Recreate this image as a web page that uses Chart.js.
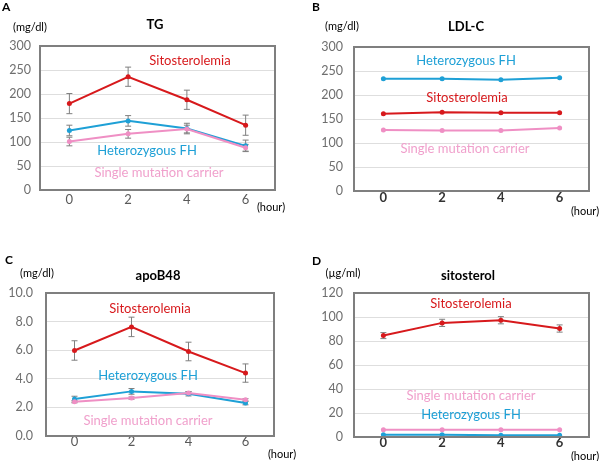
<!DOCTYPE html>
<html>
<head>
<meta charset="utf-8">
<script src="https://cdn.jsdelivr.net/npm/chart.js@4.4.1/dist/chart.umd.min.js"></script>
<style>
  html, body { margin: 0; padding: 0; background: #fff; }
  #wrap { position: relative; width: 600px; height: 461px; }
  .panel { position: absolute; }
</style>
</head>
<body>
<div id="wrap">
  <div class="panel" style="left:0;top:0"><canvas id="cA" width="300" height="230"></canvas></div>
  <div class="panel" style="left:300px;top:0"><canvas id="cB" width="300" height="230"></canvas></div>
  <div class="panel" style="left:0;top:230px"><canvas id="cC" width="300" height="231"></canvas></div>
  <div class="panel" style="left:300px;top:230px"><canvas id="cD" width="300" height="231"></canvas></div>
</div>
<script>
// ── Data ────────────────────────────────────────────────────────────────
const hours = ['0', '2', '4', '6'];

// A: TG (mg/dl)
const tgSito = [180, 236, 188, 135];
const tgSitoErr = [21, 20, 20, 21];
const tgHetFH = [124, 144, 128, 92];
const tgHetFHErr = [11, 11, 11, 12];
const tgSingle = [101, 117, 127, 88];
const tgSingleErr = [9, 9, 8, 7];

// B: LDL-C (mg/dl)
const ldlSito = [161, 164, 163, 163];
const ldlHetFH = [234, 234, 232, 236];
const ldlSingle = [127, 126, 126, 131];

// C: apoB48 (mg/dl)
const apoSito = [5.98, 7.63, 5.91, 4.40];
const apoSitoErr = [0.68, 0.68, 0.65, 0.64];
const apoHetFH = [2.58, 3.12, 2.95, 2.30];
const apoHetFHErr = [0.2, 0.2, 0.15, 0.12];
const apoSingle = [2.40, 2.65, 3.00, 2.53];
const apoSingleErr = [0.08, 0.08, 0.1, 0.08];

// D: sitosterol (µg/ml)
const sitoSito = [84.5, 95.1, 97.3, 90.4];
const sitoSitoErr = [2.5, 3, 3, 3];
const sitoHetFH = [1.8, 1.9, 1.5, 1.5];
const sitoSingle = [6.1, 6.1, 6.1, 6.1];

const RED = '#d7191c';
const BLUE = '#1ea0d6';
const PINK = '#ef8fc4';
const PINK_TXT = '#f0a0cc';
const FRAME = '#7f7f7f';
const FONT = "Lato, 'Liberation Sans', sans-serif";

Chart.defaults.font.family = FONT;

// ── Plugins ─────────────────────────────────────────────────────────────
// error bars, drawn under the lines
const errorBars = {
  id: 'errorBars',
  beforeDatasetsDraw(chart) {
    const { ctx, scales: { x, y } } = chart;
    ctx.save();
    ctx.strokeStyle = '#7f7f7f';
    ctx.lineWidth = 1;
    chart.data.datasets.forEach(ds => {
      if (!ds.err) return;
      ds.data.forEach((v, i) => {
        const px = x.getPixelForValue(i);
        const top = y.getPixelForValue(v + ds.err[i]);
        const bot = y.getPixelForValue(v - ds.err[i]);
        ctx.beginPath();
        ctx.moveTo(px, top); ctx.lineTo(px, bot);
        ctx.moveTo(px - 3, top); ctx.lineTo(px + 3, top);
        ctx.moveTo(px - 3, bot); ctx.lineTo(px + 3, bot);
        ctx.stroke();
      });
    });
    ctx.restore();
  }
};

// plot frame + free text (panel letter, units, title, series names)
const notes = {
  id: 'notes',
  afterDraw(chart, args, opts) {
    const { ctx } = chart;
    const a = chart.chartArea;
    ctx.save();
    ctx.strokeStyle = FRAME;
    ctx.lineWidth = 2;
    ctx.strokeRect(Math.round(a.left), Math.round(a.top),
      Math.round(a.right - a.left), Math.round(a.bottom - a.top));

    ctx.textBaseline = 'middle';
    (opts.items || []).forEach(n => {
      ctx.fillStyle = n.color || '#000';
      ctx.font = n.font || `13px ${FONT}`;
      ctx.textAlign = n.align || 'center';
      ctx.fillText(n.t, n.x, n.y);
    });
    ctx.restore();
  }
};

// ── Chart builder ───────────────────────────────────────────────────────
function series(label, data, color, err) {
  return {
    label, data, err,
    borderColor: color,
    backgroundColor: color,
    borderWidth: 2,
    pointRadius: 2.5,
    pointBorderWidth: 0,
    pointBackgroundColor: color,
    tension: 0
  };
}

function makeChart(id, cfg) {
  const el = document.getElementById(id);
  const H = el.height;
  return new Chart(el, {
    type: 'line',
    data: { labels: hours, datasets: cfg.datasets },
    plugins: [errorBars, notes],
    options: {
      responsive: false,
      animation: false,
      layout: { padding: { left: 0, top: cfg.area.top, right: 300 - cfg.area.right, bottom: 0 } },
      plugins: {
        legend: { display: false },
        tooltip: { enabled: false },
        notes: { items: cfg.notes }
      },
      scales: {
        x: {
          offset: true,
          grid: { display: false, drawTicks: false },
          border: { display: false },
          ticks: { color: cfg.xTickColor, padding: cfg.xPad, font: { size: 13, weight: cfg.xTickWeight } },
          afterFit: s => { s.height = H - cfg.area.bottom; }
        },
        y: {
          min: cfg.y.min, max: cfg.y.max,
          grid: { color: '#dedede', drawTicks: false, lineWidth: 1 },
          border: { display: false },
          ticks: {
            stepSize: cfg.y.step,
            color: '#6e6e6e',
            padding: cfg.y.pad,
            font: { size: 12.5 },
            callback: v => cfg.y.fmt ? v.toFixed(1) : v
          },
          afterFit: s => { s.width = cfg.area.left; }
        }
      }
    }
  });
}

const lbl = (t, x, y, color, font, align) => ({ t, x, y, color, font, align });

// ── A: TG ──
makeChart('cA', {
  area: { left: 40, top: 46, right: 275, bottom: 190 },
  y: { min: 0, max: 300, step: 50, pad: 9 },
  xTickColor: '#595959', xTickWeight: 'normal', xPad: 2,
  datasets: [
    series('Single mutation carrier', tgSingle, PINK, tgSingleErr),
    series('Heterozygous FH', tgHetFH, BLUE, tgHetFHErr),
    series('Sitosterolemia', tgSito, RED, tgSitoErr)
  ],
  notes: [
    lbl('A', 2, 7, '#000', `bold 12px ${FONT}`, 'left'),
    lbl('(mg/dl)', 30, 27, '#000', `11px ${FONT}`),
    lbl('TG', 155, 25, '#000', `bold 13px ${FONT}`),
    lbl('(hour)', 271, 207, '#000', `11px ${FONT}`),
    lbl('Sitosterolemia', 190, 61, RED, `13px ${FONT}`),
    lbl('Heterozygous FH', 147, 151, BLUE, `13px ${FONT}`),
    lbl('Single mutation carrier', 159, 173, PINK_TXT, `13px ${FONT}`)
  ]
});

// ── B: LDL-C ──
makeChart('cB', {
  area: { left: 54, top: 47, right: 289, bottom: 191 },
  y: { min: 0, max: 300, step: 50, pad: 11 },
  xTickColor: '#333', xTickWeight: 'bold', xPad: -1,
  datasets: [
    series('Single mutation carrier', ldlSingle, PINK),
    series('Heterozygous FH', ldlHetFH, BLUE),
    series('Sitosterolemia', ldlSito, RED)
  ],
  notes: [
    lbl('B', 12, 7, '#000', `bold 12px ${FONT}`, 'left'),
    lbl('(mg/dl)', 42, 26, '#000', `11px ${FONT}`),
    lbl('LDL-C', 166, 27, '#000', `bold 13px ${FONT}`),
    lbl('(hour)', 285, 211, '#000', `11px ${FONT}`),
    lbl('Heterozygous FH', 166, 61, BLUE, `13px ${FONT}`),
    lbl('Sitosterolemia', 167, 98, RED, `13px ${FONT}`),
    lbl('Single mutation carrier', 165, 149, PINK_TXT, `13px ${FONT}`)
  ]
});

// ── C: apoB48 ──
makeChart('cC', {
  area: { left: 46, top: 63, right: 274, bottom: 206 },
  y: { min: 0, max: 10, step: 2, pad: 13, fmt: true },
  xTickColor: '#595959', xTickWeight: 'normal', xPad: -2,
  datasets: [
    series('Single mutation carrier', apoSingle, PINK, apoSingleErr),
    series('Heterozygous FH', apoHetFH, BLUE, apoHetFHErr),
    series('Sitosterolemia', apoSito, RED, apoSitoErr)
  ],
  notes: [
    lbl('C', 5, 30, '#000', `bold 12px ${FONT}`, 'left'),
    lbl('(mg/dl)', 37, 43, '#000', `11px ${FONT}`),
    lbl('apoB48', 158, 46, '#000', `bold 13px ${FONT}`),
    lbl('(hour)', 282, 224, '#000', `11px ${FONT}`),
    lbl('Sitosterolemia', 150, 79, RED, `13px ${FONT}`),
    lbl('Heterozygous FH', 148, 146, BLUE, `13px ${FONT}`),
    lbl('Single mutation carrier', 148, 191, PINK_TXT, `13px ${FONT}`)
  ]
});

// ── D: sitosterol ──
makeChart('cD', {
  area: { left: 54, top: 63, right: 289, bottom: 207 },
  y: { min: 0, max: 120, step: 20, pad: 11 },
  xTickColor: '#333', xTickWeight: 'bold', xPad: -2,
  datasets: [
    series('Single mutation carrier', sitoSingle, PINK),
    series('Heterozygous FH', sitoHetFH, BLUE),
    series('Sitosterolemia', sitoSito, RED, sitoSitoErr)
  ],
  notes: [
    lbl('D', 12, 31, '#000', `bold 12px ${FONT}`, 'left'),
    lbl('(µg/ml)', 43, 43, '#000', `11px ${FONT}`),
    lbl('sitosterol', 168, 46, '#000', `bold 13px ${FONT}`),
    lbl('(hour)', 285, 226, '#000', `11px ${FONT}`),
    lbl('Sitosterolemia', 171, 74, RED, `13px ${FONT}`),
    lbl('Single mutation carrier', 171, 166, PINK_TXT, `13px ${FONT}`),
    lbl('Heterozygous FH', 171, 185, BLUE, `13px ${FONT}`)
  ]
});
</script>
</body>
</html>
